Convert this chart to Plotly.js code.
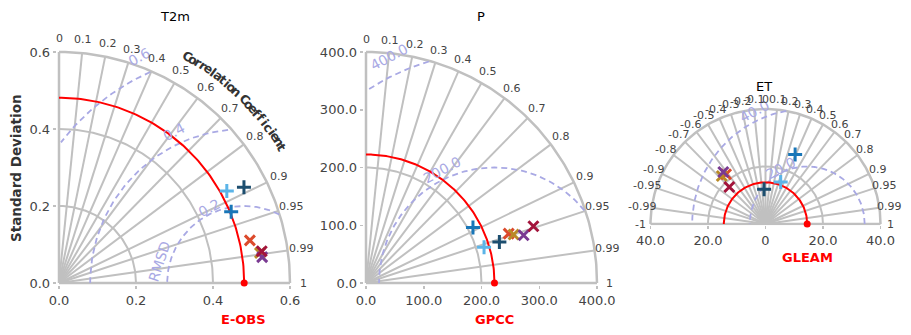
<!DOCTYPE html>
<html>
<head>
<meta charset="utf-8">
<script src="https://cdn.plot.ly/plotly-3.0.1.min.js"></script>
<style>html,body{margin:0;padding:0;background:#fff}</style>
</head>
<body>
<div id="chart" style="width:911px;height:335px"></div>
<script>
// models: 3 "+" runs and 4 "x" runs, same order in every panel
var markerColors = ['#1c4e6f', '#1976b8', '#5bb4e8', '#dc4a2c', '#b98a26', '#7a3a92', '#a3143c'];
var markerSymbols = ['cross-thin', 'cross-thin', 'cross-thin', 'x-thin', 'x-thin', 'x-thin', 'x-thin'];

// standard deviation + correlation vs reference
var t2mStd = [0.541, 0.484, 0.497, 0.508, 0.528, 0.532, 0.533];
var t2mCor = [0.888, 0.924, 0.877, 0.976, 0.989, 0.992, 0.988];
var pStd = [241.6, 208.6, 213.6, 261.5, 269.1, 285.2, 306.1];
var pCor = [0.956, 0.888, 0.957, 0.945, 0.950, 0.957, 0.947];
var etStd = [12.1, 26.3, 15.5, 22.1, 22.6, 23.3, 18.0];
var etCor = [-0.041, 0.392, 0.341, -0.621, -0.673, -0.630, -0.699];

// reference (observation) std
var t2mRef = 0.481, pRef = 222.5, etRef = 14.5;

var corLabelsPos = [0, 0.1, 0.2, 0.3, 0.4, 0.5, 0.6, 0.7, 0.8, 0.9, 0.95, 0.99, 1];
var corLabelsAll = [-1, -0.99, -0.95, -0.9, -0.8, -0.7, -0.6, -0.5, -0.4, -0.3, -0.2, -0.1,
  0, 0.1, 0.2, 0.3, 0.4, 0.5, 0.6, 0.7, 0.8, 0.9, 0.95, 0.99, 1];

var t2mTicks = [0, 0.2, 0.4, 0.6], pTicks = [0, 100, 200, 300, 400];
var etTicks = [-40, -20, 0, 20, 40], etTickText = ['40.0', '20.0', '0', '20.0', '40.0'];
var t2mRings = [0.2, 0.4], pRings = [200], etRings = [20];
var t2mRmsd = [0.2, 0.4, 0.6], pRmsd = [200, 400], etRmsd = [20, 40];

var W = 911, H = 335;
var GRAY = '#c0c0c0', DASH = '#a9a9e4';
var traces = [], annos = [];

function arc(cx, r, a0, a1) {
  var x = [], y = [];
  for (var i = 0; i <= 120; i++) {
    var a = a0 + (a1 - a0) * i / 120;
    x.push(cx + r * Math.cos(a)); y.push(r * Math.sin(a));
  }
  return {x: x, y: y};
}

// text placed in paper space (data-ref annotations outside the range get hidden)
function label(c, x, y, text, opt) {
  annos.push(Object.assign({xref: 'paper', yref: 'paper',
    x: (c.px + x * c.s) / W, y: (H - c.py + y * c.s) / H, text: text, showarrow: false,
    xanchor: 'center', yanchor: 'middle'}, opt));
}

function panel(c) {
  var R = c.rmax, amax = c.full ? Math.PI : Math.PI / 2;
  var ax = {xaxis: c.xa, yaxis: c.ya, hoverinfo: 'skip', showlegend: false};
  function line(x, y, col, w, dash) {
    traces.push(Object.assign({type: 'scatter', mode: 'lines', x: x, y: y,
      line: {color: col, width: w, dash: dash || 'solid'}}, ax));
  }
  // spokes
  var sx = [], sy = [];
  c.labels.forEach(function (v) {
    if (Math.abs(v) === 1) return;
    sx.push(0, R * v, null); sy.push(0, R * Math.sqrt(1 - v * v), null);
  });
  line(sx, sy, GRAY, 2);
  c.rings.forEach(function (r) { var a = arc(0, r, 0, amax); line(a.x, a.y, GRAY, 2); });
  var o = arc(0, R, 0, amax); line(o.x, o.y, GRAY, 2.5);
  if (c.full) line([-R, R], [0, 0], GRAY, 2.5);
  else { line([0, R], [0, 0], GRAY, 2.5); line([0, 0], [0, R], GRAY, 2.5); }
  // RMSD contours
  c.rmsd.forEach(function (rm) {
    var a = arc(c.ref, rm, 0, Math.PI), x = [], y = [];
    for (var i = 0; i < a.x.length; i++) {
      var ok = a.x[i] * a.x[i] + a.y[i] * a.y[i] <= R * R && (c.full || a.x[i] >= 0);
      x.push(ok ? a.x[i] : null); y.push(ok ? a.y[i] : null);
    }
    line(x, y, DASH, 1.8, '6px,4px');
    var t = 115 * Math.PI / 180;
    label(c, c.ref + rm * 1.08 * Math.cos(t), rm * 1.08 * Math.sin(t), rm.toFixed(1),
      {textangle: -28, font: {size: 14, color: DASH, family: 'DejaVu Sans'}});
  });
  // reference
  var ra = arc(0, c.ref, 0, amax); line(ra.x, ra.y, '#ff0000', 2);
  traces.push(Object.assign({type: 'scatter', mode: 'markers', x: [c.ref], y: [0], cliponaxis: false,
    marker: {color: '#ff0000', size: 7}}, ax));
  // models
  traces.push(Object.assign({type: 'scatter', mode: 'markers', cliponaxis: false,
    x: c.std.map(function (s, i) { return s * c.cor[i]; }),
    y: c.std.map(function (s, i) { return s * Math.sqrt(1 - c.cor[i] * c.cor[i]); }),
    marker: {symbol: markerSymbols, size: 10, color: markerColors,
      line: {color: markerColors, width: 3}}}, ax));
  // correlation labels
  c.labels.forEach(function (v) {
    label(c, R * c.lf * v, R * c.lf * Math.sqrt(1 - v * v), String(v),
      {font: {size: 11, color: '#444', family: 'DejaVu Sans'}});
  });
}

var s1 = 231 / 0.6, s2 = 231 / 400, s3 = 115 / 40;
var P1 = {xa: 'x', ya: 'y', px: 59, py: 283, s: s1, rmax: 0.6, ref: t2mRef, std: t2mStd, cor: t2mCor,
  labels: corLabelsPos, rings: t2mRings, rmsd: t2mRmsd, lf: 1.06};
var P2 = {xa: 'x2', ya: 'y2', px: 366, py: 283, s: s2, rmax: 400, ref: pRef, std: pStd, cor: pCor,
  labels: corLabelsPos, rings: pRings, rmsd: pRmsd, lf: 1.055};
var P3 = {xa: 'x3', ya: 'y3', px: 765.5, py: 224, s: s3, rmax: 40, ref: etRef, std: etStd, cor: etCor,
  labels: corLabelsAll, rings: etRings, rmsd: etRmsd, lf: 1.085, full: true};
panel(P1); panel(P2); panel(P3);

// "Correlation Coefficient" along the arc of the first panel
var cc = 'Correlation Coefficient';
for (var i = 0; i < cc.length; i++) {
  var th = 60.4 - (60.4 - 31.4) * i / (cc.length - 1), tr = th * Math.PI / 180;
  label(P1, 0.678 * Math.cos(tr), 0.678 * Math.sin(tr), cc[i],
    {textangle: 90 - th, font: {size: 12.5, color: '#333', family: 'DejaVu Sans', weight: 'bold'}});
}
label(P1, 0.262, 0.056, 'RMSD', {textangle: -72, font: {size: 14, color: DASH, family: 'DejaVu Sans'}});

function pa(px, py, text, opt) {
  annos.push(Object.assign({xref: 'paper', yref: 'paper', x: px / W, y: 1 - py / H, text: text,
    showarrow: false, xanchor: 'center', yanchor: 'middle'}, opt));
}
var tf = {size: 13, color: '#000', family: 'DejaVu Sans'};
var rf = {size: 13, color: '#ff0000', family: 'DejaVu Sans', weight: 'bold'};
pa(175, 17, 'T2m', {font: tf});
pa(481, 17, 'P', {font: tf});
pa(764, 86, 'ET', {font: tf});
pa(244, 319, 'E-OBS', {font: rf});
pa(494, 319, 'GPCC', {font: rf});
pa(807, 257, 'GLEAM', {font: rf});
pa(16, 168, 'Standard Deviation', {textangle: -90, font: {size: 13.5, color: '#333', family: 'DejaVu Sans', weight: 'bold'}});

function dx(p0, s, lo, hi) { return [(p0 + lo * s) / W, (p0 + hi * s) / W]; }
function dy(p0, s, lo, hi) { return [(H - p0 + lo * s) / H, (H - p0 + hi * s) / H]; }
var tickFont = {size: 13, color: '#444', family: 'DejaVu Sans'};
function axis(dom, rng, extra) {
  return Object.assign({domain: dom, range: rng, showgrid: false, zeroline: false, showline: false,
    ticks: 'outside', ticklen: 3, tickcolor: GRAY, tickwidth: 1.5, tickfont: tickFont, fixedrange: true}, extra);
}
var layout = {
  width: W, height: H, margin: {l: 0, r: 0, t: 0, b: 0},
  paper_bgcolor: '#fff', plot_bgcolor: 'rgba(0,0,0,0)',
  font: {family: 'DejaVu Sans'},
  xaxis: axis(dx(59, s1, -0.006, 0.612), [-0.006, 0.612], {tickvals: t2mTicks, tickformat: '.1f', anchor: 'y'}),
  yaxis: axis(dy(283, s1, -0.006, 0.612), [-0.006, 0.612], {tickvals: t2mTicks, tickformat: '.1f', anchor: 'x'}),
  xaxis2: axis(dx(366, s2, -4, 408), [-4, 408], {tickvals: pTicks, tickformat: '.1f', anchor: 'y2'}),
  yaxis2: axis(dy(283, s2, -4, 408), [-4, 408], {tickvals: pTicks, tickformat: '.1f', anchor: 'x2'}),
  xaxis3: axis(dx(765.5, s3, -40.8, 40.8), [-40.8, 40.8], {tickvals: etTicks, ticktext: etTickText, anchor: 'y3'}),
  yaxis3: axis(dy(224, s3, -0.4, 40.8), [-0.4, 40.8], {showticklabels: false, ticks: '', anchor: 'x3'}),
  annotations: annos
};
Plotly.newPlot('chart', traces, layout, {displayModeBar: false, staticPlot: true});
</script>
</body>
</html>
